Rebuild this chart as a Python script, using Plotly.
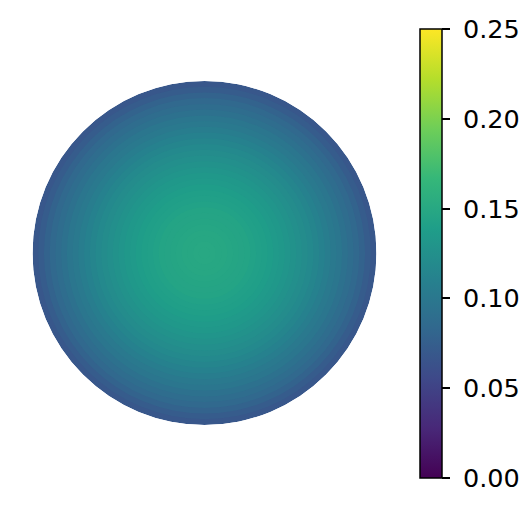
import plotly.graph_objects as go

# radial profile: ring outer radius (fraction of disk radius) and value
ring_outer = [(i + 1) / 30 for i in range(30)]
ring_value = [
    0.150, 0.150, 0.149, 0.149, 0.148, 0.147, 0.146, 0.145, 0.143, 0.141,
    0.140, 0.138, 0.135, 0.133, 0.130, 0.127, 0.124, 0.121, 0.118, 0.114,
    0.110, 0.106, 0.102, 0.098, 0.093, 0.089, 0.084, 0.079, 0.073, 0.068,
]
cbar_ticks = [0.00, 0.05, 0.10, 0.15, 0.20, 0.25]

W, H = 521, 507


def px_x(x):
    return x / W


def px_y(y):
    return (H - y) / H


# draw the largest disk first, smaller ones on top, so no gaps show between rings
order = list(range(len(ring_outer)))[::-1]

fig = go.Figure()
fig.add_trace(
    go.Barpolar(
        r=[ring_outer[i] for i in order],
        base=[0] * len(order),
        theta=[0] * len(order),
        width=[360] * len(order),
        marker=dict(
            color=[ring_value[i] for i in order],
            colorscale="Viridis",
            cmin=0,
            cmax=0.25,
            line=dict(width=0),
            colorbar=dict(
                x=px_x(420),
                xanchor="left",
                xpad=0,
                y=px_y((29 + 478) / 2),
                yanchor="middle",
                ypad=0,
                len=449,
                lenmode="pixels",
                thickness=22,
                thicknessmode="pixels",
                outlinewidth=1.5,
                outlinecolor="black",
                ticks="outside",
                ticklen=8,
                tickwidth=1.5,
                tickcolor="black",
                tickvals=cbar_ticks,
                ticktext=["\u2009\u200a" + f"{t:.2f}" for t in cbar_ticks],
                tickfont=dict(family="DejaVu Sans", size=25.5, color="black"),
            ),
        ),
        hoverinfo="skip",
    )
)

fig.update_layout(
    width=W,
    height=H,
    margin=dict(l=0, r=0, t=0, b=0),
    paper_bgcolor="white",
    showlegend=False,
    polar=dict(
        domain=dict(x=[px_x(32.5), px_x(376.5)], y=[px_y(425), px_y(81)]),
        bgcolor="white",
        radialaxis=dict(range=[0, 1], visible=False, showgrid=False),
        angularaxis=dict(visible=False, showgrid=False),
        bargap=0,
    ),
)

# drop the default body margin so the figure fills the window exactly
fig.write_html(
    "out.html",
    config={"displayModeBar": False},
    post_script="document.body.style.margin = '0';",
)
